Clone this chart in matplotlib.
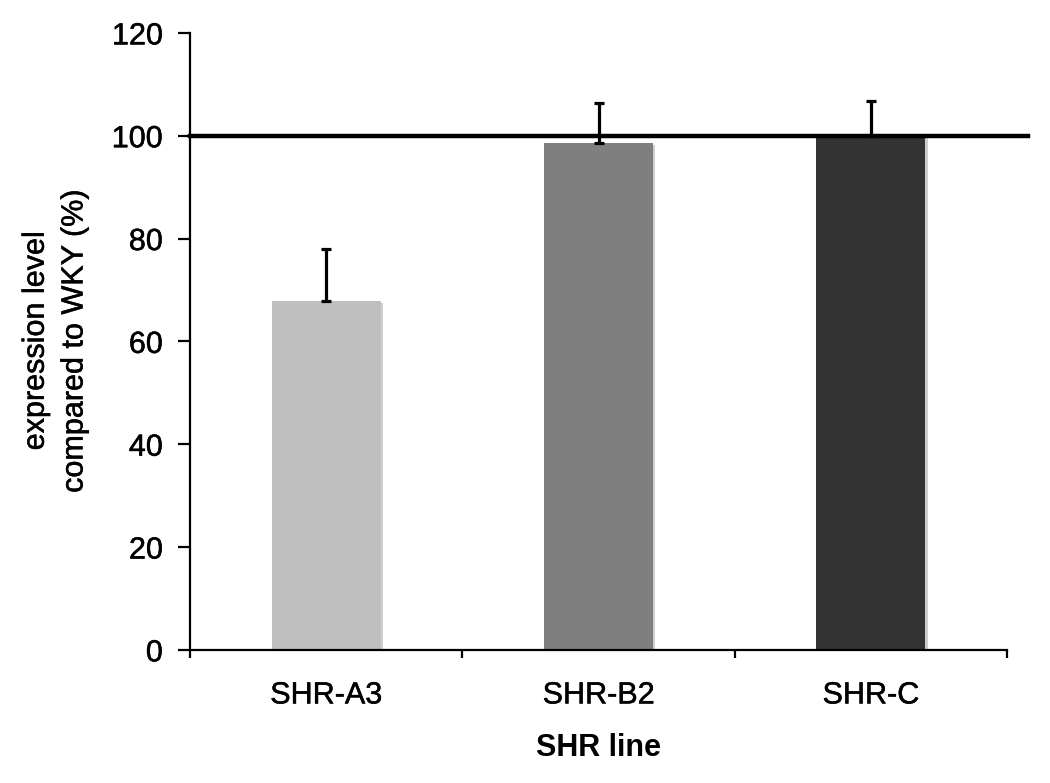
"""
Expression level of SHR lines relative to WKY, bar chart with SD bars.
"""

import matplotlib
matplotlib.use('Agg')
import matplotlib.pyplot as plt
import matplotlib.patheffects as pe
import matplotlib.transforms as mtransforms
import numpy as np

plt.rcParams['font.family'] = ['Liberation Sans', 'DejaVu Sans']

# ── Data ────────────────────────────────────────────────────────────────────
lines      = ['SHR-A3', 'SHR-B2', 'SHR-C']
expression = [67.9, 98.6, 99.9]
err_upper  = [10.1, 7.8, 6.9]
bar_colors = ['#bfbfbf', '#7f7f7f', '#333333']
ref_level  = 100
y_ticks    = [0, 20, 40, 60, 80, 100, 120]

# slightly heavier text, closer to the scanned original
heavy = [pe.withStroke(linewidth=0.35, foreground='black')]

# ── Figure ──────────────────────────────────────────────────────────────────
fig = plt.figure(figsize=(10.5, 7.83), dpi=100)
ax = fig.add_axes([0.181, 0.170, 0.778, 0.788])

x = np.arange(len(lines))
width = 0.40

# soft drop shadow offset a few pixels right / down
shadow = mtransforms.offset_copy(ax.transData, fig=fig, x=2.5, y=-2,
                                 units='dots')
ax.bar(x, expression, width, color='#cfcfcf', transform=shadow, zorder=1)
ax.bar(x, expression, width, color=bar_colors, zorder=2)

ax.errorbar(x, expression, yerr=[np.zeros(len(x)), err_upper], fmt='none',
            ecolor='black', elinewidth=2.3, capsize=3.8, capthick=2.3,
            zorder=3)

ax.axhline(ref_level, xmin=0, xmax=1.026, color='black', lw=3.2,
           clip_on=False, zorder=4)

ax.set_xlim(-0.5, len(lines) - 0.5)
ax.set_ylim(0, 120)
ax.set_yticks(y_ticks)
ax.set_yticklabels([str(v) for v in y_ticks], fontsize=22)

# category labels centred, tick marks on category boundaries
ax.set_xticks(np.arange(len(lines) + 1) - 0.5)
ax.set_xticklabels([])
ax.set_xticks(x, minor=True)
ax.set_xticklabels(lines, minor=True, fontsize=22)
ax.tick_params(axis='x', which='minor', length=0, pad=22)
ax.tick_params(axis='x', which='major', direction='out', length=6,
               width=1.6)
ax.tick_params(axis='y', direction='out', length=8.5, width=1.6, pad=11)

for side in ['top', 'right']:
    ax.spines[side].set_visible(False)
for side in ['left', 'bottom']:
    ax.spines[side].set_linewidth(1.6)

ax.set_ylabel('expression level\ncompared to WKY (%)', fontsize=22,
              labelpad=16, linespacing=1.38)
ax.set_xlabel('SHR line', fontsize=22, fontweight='bold', labelpad=16)

for t in (ax.get_yticklabels() + ax.get_xticklabels(minor=True)
          + [ax.yaxis.label]):
    t.set_path_effects(heavy)

plt.savefig('out.png', dpi=100)
plt.close()
